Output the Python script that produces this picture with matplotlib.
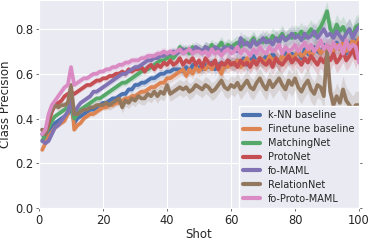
import numpy as np
import matplotlib
matplotlib.use("Agg")
import matplotlib.pyplot as plt
import seaborn as sns

sns.set_style("darkgrid")
plt.rcParams['font.family'] = ['DejaVu Sans']

shots = list(range(1, 101))

knn = [0.33, 0.31, 0.34, 0.36, 0.38, 0.39, 0.40, 0.41, 0.42, 0.45,
       0.38, 0.40, 0.41, 0.42, 0.43, 0.44, 0.44, 0.45, 0.46, 0.47,
       0.47, 0.48, 0.49, 0.49, 0.50, 0.51, 0.51, 0.53, 0.53, 0.55,
       0.55, 0.56, 0.56, 0.57, 0.58, 0.58, 0.59, 0.60, 0.60, 0.61,
       0.61, 0.62, 0.62, 0.62, 0.61, 0.63, 0.61, 0.64, 0.62, 0.63,
       0.62, 0.64, 0.63, 0.65, 0.62, 0.64, 0.65, 0.63, 0.66, 0.65,
       0.64, 0.66, 0.65, 0.67, 0.64, 0.66, 0.68, 0.65, 0.67, 0.66,
       0.68, 0.66, 0.69, 0.67, 0.65, 0.68, 0.70, 0.67, 0.69, 0.68,
       0.70, 0.67, 0.71, 0.69, 0.68, 0.72, 0.70, 0.69, 0.73, 0.71,
       0.72, 0.70, 0.74, 0.71, 0.73, 0.69, 0.74, 0.72, 0.75, 0.71]

finetune = [0.26, 0.29, 0.32, 0.34, 0.36, 0.37, 0.38, 0.39, 0.42, 0.52,
            0.35, 0.37, 0.38, 0.40, 0.41, 0.42, 0.42, 0.43, 0.44, 0.45,
            0.45, 0.46, 0.46, 0.47, 0.47, 0.48, 0.49, 0.49, 0.50, 0.50,
            0.51, 0.52, 0.52, 0.53, 0.54, 0.54, 0.55, 0.56, 0.56, 0.58,
            0.58, 0.59, 0.60, 0.61, 0.62, 0.59, 0.62, 0.60, 0.63, 0.61,
            0.63, 0.62, 0.64, 0.62, 0.65, 0.63, 0.60, 0.64, 0.63, 0.65,
            0.64, 0.66, 0.63, 0.65, 0.67, 0.64, 0.66, 0.65, 0.67, 0.66,
            0.65, 0.68, 0.66, 0.67, 0.65, 0.68, 0.66, 0.69, 0.67, 0.68,
            0.70, 0.68, 0.69, 0.71, 0.68, 0.70, 0.72, 0.69, 0.71, 0.70,
            0.72, 0.70, 0.73, 0.71, 0.74, 0.70, 0.72, 0.75, 0.73, 0.76]

matching = [0.30, 0.33, 0.36, 0.39, 0.41, 0.42, 0.43, 0.44, 0.45, 0.47,
            0.40, 0.42, 0.44, 0.45, 0.46, 0.47, 0.48, 0.49, 0.49, 0.50,
            0.51, 0.52, 0.53, 0.54, 0.55, 0.56, 0.56, 0.57, 0.58, 0.59,
            0.60, 0.61, 0.62, 0.62, 0.63, 0.64, 0.65, 0.66, 0.66, 0.67,
            0.68, 0.67, 0.69, 0.72, 0.70, 0.71, 0.69, 0.72, 0.70, 0.71,
            0.70, 0.72, 0.71, 0.73, 0.70, 0.72, 0.74, 0.71, 0.73, 0.72,
            0.73, 0.74, 0.72, 0.75, 0.73, 0.74, 0.76, 0.73, 0.75, 0.74,
            0.76, 0.74, 0.77, 0.75, 0.76, 0.78, 0.75, 0.77, 0.76, 0.78,
            0.77, 0.79, 0.76, 0.78, 0.80, 0.77, 0.79, 0.81, 0.84, 0.88,
            0.80, 0.78, 0.82, 0.79, 0.81, 0.78, 0.80, 0.77, 0.81, 0.82]

protonet = [0.35, 0.33, 0.38, 0.43, 0.46, 0.47, 0.48, 0.50, 0.51, 0.52,
            0.51, 0.52, 0.53, 0.54, 0.55, 0.55, 0.56, 0.57, 0.57, 0.58,
            0.58, 0.59, 0.59, 0.60, 0.60, 0.61, 0.60, 0.62, 0.61, 0.62,
            0.62, 0.63, 0.61, 0.63, 0.64, 0.62, 0.64, 0.63, 0.65, 0.64,
            0.66, 0.64, 0.65, 0.67, 0.64, 0.66, 0.65, 0.67, 0.64, 0.66,
            0.63, 0.67, 0.65, 0.64, 0.66, 0.62, 0.65, 0.64, 0.66, 0.64,
            0.65, 0.63, 0.66, 0.64, 0.65, 0.63, 0.66, 0.64, 0.67, 0.65,
            0.64, 0.66, 0.63, 0.67, 0.65, 0.64, 0.66, 0.68, 0.65, 0.67,
            0.66, 0.64, 0.67, 0.65, 0.68, 0.66, 0.64, 0.67, 0.65, 0.68,
            0.66, 0.69, 0.65, 0.67, 0.70, 0.66, 0.68, 0.71, 0.67, 0.74]

fomaml = [0.30, 0.29, 0.30, 0.33, 0.36, 0.37, 0.39, 0.41, 0.43, 0.48,
          0.42, 0.45, 0.47, 0.48, 0.49, 0.50, 0.52, 0.52, 0.53, 0.54,
          0.55, 0.56, 0.57, 0.58, 0.59, 0.60, 0.60, 0.61, 0.62, 0.63,
          0.63, 0.64, 0.65, 0.66, 0.66, 0.67, 0.67, 0.68, 0.68, 0.69,
          0.69, 0.70, 0.69, 0.70, 0.71, 0.70, 0.71, 0.70, 0.72, 0.71,
          0.70, 0.72, 0.71, 0.70, 0.72, 0.71, 0.70, 0.72, 0.71, 0.72,
          0.71, 0.70, 0.76, 0.73, 0.74, 0.72, 0.75, 0.73, 0.74, 0.76,
          0.74, 0.75, 0.73, 0.76, 0.74, 0.77, 0.75, 0.76, 0.78, 0.76,
          0.77, 0.75, 0.78, 0.76, 0.77, 0.79, 0.76, 0.78, 0.80, 0.77,
          0.78, 0.76, 0.79, 0.77, 0.75, 0.78, 0.80, 0.76, 0.79, 0.81]

relationnet = [0.35, 0.33, 0.40, 0.44, 0.46, 0.45, 0.46, 0.46, 0.47, 0.55,
               0.42, 0.42, 0.43, 0.44, 0.44, 0.45, 0.45, 0.46, 0.46, 0.46,
               0.47, 0.46, 0.47, 0.48, 0.49, 0.45, 0.48, 0.47, 0.49, 0.48,
               0.50, 0.49, 0.49, 0.51, 0.50, 0.52, 0.50, 0.52, 0.51, 0.55,
               0.51, 0.52, 0.53, 0.54, 0.53, 0.54, 0.52, 0.53, 0.55, 0.54,
               0.53, 0.55, 0.54, 0.52, 0.53, 0.55, 0.57, 0.54, 0.53, 0.55,
               0.54, 0.56, 0.53, 0.55, 0.57, 0.54, 0.53, 0.56, 0.58, 0.55,
               0.53, 0.57, 0.54, 0.56, 0.58, 0.55, 0.53, 0.57, 0.55, 0.58,
               0.54, 0.52, 0.55, 0.57, 0.53, 0.51, 0.55, 0.54, 0.50, 0.70,
               0.52, 0.46, 0.50, 0.47, 0.53, 0.48, 0.46, 0.44, 0.46, 0.46]

protomaml = [0.33, 0.35, 0.42, 0.46, 0.48, 0.50, 0.52, 0.54, 0.55, 0.63,
             0.55, 0.56, 0.57, 0.58, 0.58, 0.59, 0.60, 0.60, 0.61, 0.61,
             0.62, 0.62, 0.63, 0.63, 0.64, 0.64, 0.65, 0.65, 0.66, 0.66,
             0.66, 0.67, 0.67, 0.68, 0.68, 0.68, 0.69, 0.69, 0.70, 0.69,
             0.70, 0.69, 0.70, 0.71, 0.69, 0.70, 0.71, 0.69, 0.70, 0.70,
             0.69, 0.70, 0.68, 0.71, 0.69, 0.70, 0.68, 0.70, 0.71, 0.69,
             0.70, 0.72, 0.69, 0.71, 0.70, 0.68, 0.71, 0.69, 0.72, 0.70,
             0.69, 0.72, 0.70, 0.71, 0.73, 0.69, 0.72, 0.70, 0.71, 0.73,
             0.70, 0.72, 0.74, 0.71, 0.73, 0.70, 0.72, 0.75, 0.71, 0.73,
             0.70, 0.74, 0.71, 0.73, 0.69, 0.75, 0.71, 0.73, 0.72, 0.65]

# half-width of the shaded confidence band
band_small = [0.010, 0.010, 0.010, 0.010, 0.010, 0.010, 0.010, 0.010, 0.010, 0.012,
              0.010, 0.010, 0.010, 0.011, 0.011, 0.011, 0.012, 0.012, 0.012, 0.012,
              0.013, 0.013, 0.013, 0.014, 0.014, 0.014, 0.015, 0.015, 0.015, 0.016,
              0.016, 0.016, 0.017, 0.017, 0.017, 0.018, 0.018, 0.018, 0.019, 0.019,
              0.020, 0.020, 0.021, 0.021, 0.022, 0.022, 0.023, 0.023, 0.024, 0.024,
              0.025, 0.025, 0.026, 0.026, 0.027, 0.027, 0.028, 0.028, 0.029, 0.029,
              0.030, 0.030, 0.031, 0.031, 0.032, 0.032, 0.033, 0.033, 0.034, 0.034,
              0.035, 0.035, 0.036, 0.036, 0.037, 0.037, 0.038, 0.038, 0.039, 0.039,
              0.040, 0.040, 0.041, 0.041, 0.042, 0.042, 0.043, 0.043, 0.044, 0.044,
              0.045, 0.045, 0.046, 0.046, 0.047, 0.047, 0.048, 0.048, 0.049, 0.049]

band_large = [0.015, 0.015, 0.015, 0.016, 0.016, 0.016, 0.017, 0.017, 0.017, 0.020,
              0.018, 0.018, 0.019, 0.019, 0.020, 0.020, 0.021, 0.021, 0.022, 0.022,
              0.023, 0.023, 0.024, 0.024, 0.025, 0.025, 0.026, 0.026, 0.027, 0.027,
              0.028, 0.028, 0.029, 0.029, 0.030, 0.030, 0.031, 0.031, 0.032, 0.032,
              0.033, 0.033, 0.034, 0.034, 0.035, 0.035, 0.036, 0.036, 0.037, 0.037,
              0.038, 0.038, 0.039, 0.039, 0.040, 0.040, 0.041, 0.041, 0.042, 0.042,
              0.043, 0.043, 0.044, 0.044, 0.045, 0.045, 0.046, 0.046, 0.047, 0.047,
              0.048, 0.048, 0.049, 0.049, 0.050, 0.050, 0.051, 0.051, 0.052, 0.052,
              0.053, 0.053, 0.054, 0.054, 0.055, 0.055, 0.056, 0.056, 0.057, 0.060,
              0.058, 0.058, 0.059, 0.059, 0.060, 0.060, 0.061, 0.061, 0.062, 0.062]

labels = ["k-NN baseline", "Finetune baseline", "MatchingNet", "ProtoNet",
          "fo-MAML", "RelationNet", "fo-Proto-MAML"]
colors = ["#4C72B0", "#DD8452", "#55A868", "#C44E52", "#8172B3", "#937860", "#DA8BC3"]
series = [knn, finetune, matching, protonet, fomaml, relationnet, protomaml]
bands = [band_small, band_small, band_small, band_small, band_small, band_large, band_small]

fig = plt.figure(figsize=(3.73, 2.41), dpi=100)
ax = fig.add_axes([0.1046, 0.137, 0.858, 0.863])

x = np.array(shots)
for vals, bw, col, lab in zip(series, bands, colors, labels):
    v = np.array(vals)
    b = np.array(bw)
    ax.fill_between(x, v - b, v + b, color=col, alpha=0.2, linewidth=0)
    ax.plot(x, v, color=col, lw=2.7, label=lab)

ax.set_xlim(0, 100)
ax.set_ylim(0, 0.93)
ax.set_xticks([0, 20, 40, 60, 80, 100])
ax.set_yticks([0.0, 0.2, 0.4, 0.6, 0.8])
ax.set_xlabel("Shot", fontsize=8.5, labelpad=1)
ax.set_ylabel("Class Precision", fontsize=8.5, labelpad=2)
ax.tick_params(axis='both', labelsize=8.3, length=2.5, width=0.6, color='#555555', pad=1.5,
               direction='out', top=True, right=True, bottom=True, left=True)

leg = ax.legend(loc='lower right', fontsize=7, frameon=True, fancybox=False,
                borderaxespad=0.0, handlelength=1.8, labelspacing=0.4,
                borderpad=0.45, handletextpad=0.8)
leg.get_frame().set_facecolor('#EAEAF2')
leg.get_frame().set_edgecolor('white')
leg.get_frame().set_alpha(1.0)
for line in leg.get_lines():
    line.set_linewidth(3)

fig.savefig("out.png", dpi=100)
